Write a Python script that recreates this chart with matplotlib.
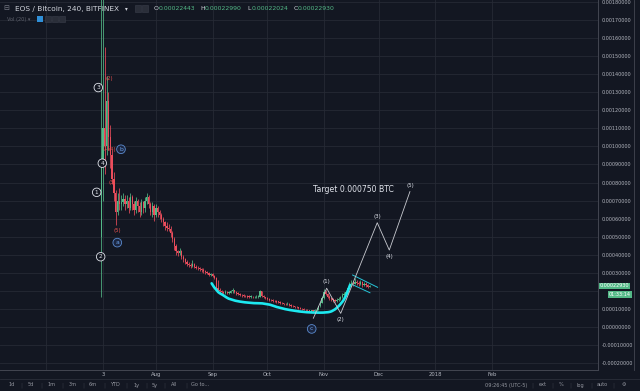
import matplotlib
matplotlib.use("Agg")
import matplotlib.pyplot as plt
import numpy as np
from matplotlib.path import Path
from matplotlib.patches import PathPatch, Rectangle
from matplotlib.lines import Line2D

# ---------------- data (prices in micro-BTC, day 0 = 2017-07-01) ----------------
first_open = 500
close = [900, 1100, 1000, 1250, 1050, 950, 820, 740, 640, 700,
         680, 690, 710, 680, 700, 660, 720, 680, 650, 700,
         670, 640, 690, 660, 700, 720, 680, 640, 670, 620,
         660, 640, 620, 600, 580, 560, 550, 545, 520, 490,
         450, 420, 410, 420, 390, 375, 360, 350, 345, 340,
         350, 335, 330, 325, 320, 318, 310, 305, 300, 290,
         292, 285, 275, 215, 205, 200, 195, 190, 195, 190,
         192, 198, 205, 195, 188, 185, 180, 178, 175, 172,
         170, 168, 170, 165, 166, 168, 170, 200, 175, 165,
         160, 157, 152, 150, 148, 145, 142, 140, 136, 132,
         130, 128, 130, 125, 118, 115, 112, 110, 107, 103,
         100, 98, 95, 93, 90, 92, 90, 95, 98, 115,
         135, 160, 195, 185, 170, 160, 155, 150, 145, 150,
         155, 165, 180, 185, 195, 215, 235, 245, 240, 250,
         245, 240, 250, 235, 240, 232, 225, 229.3]
high = [2000, 2000, 1550, 1390, 1300, 1120, 980, 860, 760, 740,
        770, 730, 740, 730, 730, 720, 740, 730, 700, 720,
        710, 690, 710, 700, 720, 740, 730, 690, 690, 680,
        680, 670, 650, 630, 610, 590, 580, 570, 560, 530,
        500, 460, 430, 440, 425, 400, 385, 370, 360, 355,
        372, 355, 345, 340, 335, 330, 325, 315, 312, 305,
        300, 300, 290, 278, 261, 215, 208, 200, 205, 200,
        202, 206, 215, 208, 200, 195, 190, 186, 183, 180,
        178, 176, 178, 175, 173, 176, 180, 206, 200, 180,
        170, 165, 162, 158, 155, 152, 150, 147, 144, 140,
        137, 135, 140, 135, 128, 122, 120, 117, 114, 111,
        108, 105, 103, 100, 98, 98, 97, 100, 104, 120,
        142, 168, 210, 205, 190, 178, 168, 163, 158, 160,
        165, 172, 188, 195, 205, 225, 250, 262, 258, 272,
        262, 255, 262, 256, 250, 248, 240, 235]
low = [167, 700, 850, 950, 980, 880, 790, 700, 565, 620,
       650, 650, 670, 650, 660, 630, 650, 650, 620, 630,
       640, 610, 620, 630, 640, 680, 660, 620, 610, 590,
       610, 610, 600, 580, 560, 540, 530, 530, 500, 470,
       430, 400, 395, 400, 380, 360, 350, 340, 335, 330,
       335, 325, 320, 315, 310, 305, 300, 295, 292, 282,
       282, 278, 265, 205, 195, 190, 185, 182, 185, 183,
       185, 188, 192, 188, 180, 178, 173, 170, 168, 166,
       163, 162, 162, 160, 160, 162, 163, 166, 168, 160,
       155, 150, 146, 144, 142, 140, 137, 134, 130, 127,
       124, 123, 124, 120, 114, 110, 108, 105, 103, 99,
       96, 94, 91, 89, 86, 87, 85, 87, 92, 95,
       112, 132, 155, 178, 162, 152, 146, 142, 138, 140,
       145, 150, 160, 172, 180, 190, 210, 228, 228, 238,
       232, 228, 232, 225, 228, 222, 215, 220]
days = list(range(1, len(close) + 1))

price_ticks = list(range(-200, 1801, 100))
hidden_tick = 200   # covered by the last-price tag in the reference
month_days = [-29, 2, 31, 62, 92, 123, 153, 184, 215]
month_labels = ["", "3", "Aug", "Sep", "Oct", "Nov", "Dec", "2018", "Feb"]

# projected Elliott wave
wave_days = [117.2, 124.5, 132.2, 152.2, 158.8, 170.1]
wave_prices = [50, 216, 77, 578, 427, 750]
wave_labels = ["", "(1)", "(2)", "(3)", "(4)", "(5)"]
wave_label_side = [0, 1, -1, 1, -1, 1]

# rounded-bottom drawing
bowl_days = [61.5, 64.3, 67.7, 71.6, 82.5, 91.6, 98.9, 109.9, 117.0, 124.5,
             128.1, 131.8, 134.5, 136.3, 137.3]
bowl_prices = [243, 197, 179, 151, 133, 133, 105, 86, 81, 81,
               90, 123, 160, 206, 234]

# flag lines
flag_upper = ([138.7, 152.4], [289, 221])
flag_lower = ([139.0, 148.2], [234, 191])

# early wave labels: (day, price, text, style)
early_labels = [(-0.57, 1325, "3", "white"), (-1.45, 746, "1", "white"),
                (0.74, 390, "2", "white"), (1.62, 907, "4", "white"),
                (5.29, 1376, "(2)", "red"), (3.64, 990, "(1)", "red"),
                (7.3, 984, "(4)", "red"), (7.1, 799, "(3)", "red"),
                (9.83, 534, "(5)", "red"),
                (11.86, 984, "b", "blue"), (9.83, 468, "a", "blue"),
                (116.3, -9, "c", "blue")]

target_day, target_price = 139.1, 759
last_price = 229.3

# ---------------- style ----------------
BG = "#131722"
GRID = "#262a35"
TXT = "#b2b5be"
UP = "#53b987"
DOWN = "#eb4d5c"
W, H = 640, 391

fig = plt.figure(figsize=(6.4, 3.91), dpi=100, facecolor=BG)

def fx(x):
    return x / W

def fy(y):
    return 1 - y / H

ax = fig.add_axes([0, fy(370), fx(598), 370 / H])
ax.set_facecolor(BG)
ax.set_xlim(-54.4, 273.1)
ax.set_ylim(-236, 1809)

for s in ["top", "left"]:
    ax.spines[s].set_visible(False)
for s in ["right", "bottom"]:
    ax.spines[s].set_color("#434651")
    ax.spines[s].set_linewidth(0.7)

ax.yaxis.tick_right()
ax.set_yticks(price_ticks)
ax.set_yticklabels(["" if v == hidden_tick else f"{v * 1e-6:.8f}" for v in price_ticks])
ax.tick_params(axis="y", length=0, pad=2.5, labelsize=3.5, labelcolor=TXT)
ax.set_xticks(month_days)
ax.set_xticklabels(month_labels)
ax.tick_params(axis="x", length=0, pad=1.5, labelsize=3.8, labelcolor=TXT)
ax.grid(True, color=GRID, lw=0.6)
ax.set_axisbelow(True)

# candles
opens = [first_open] + close[:-1]
cols = [UP if c >= o else DOWN for o, c in zip(opens, close)]
ax.vlines(days, low, high, colors=cols, lw=0.55, zorder=3)
bottoms = [min(o, c) for o, c in zip(opens, close)]
heights = [max(abs(c - o), 3) for o, c in zip(opens, close)]
ax.bar(days, heights, bottom=bottoms, width=0.7, color=cols, lw=0, zorder=4)

# rounded bottom (smooth curve through the drawn points)
pts = list(zip(bowl_days, bowl_prices))
verts = [pts[0]]
codes = [Path.MOVETO]
for i in range(1, len(pts) - 1):
    mid = ((pts[i][0] + pts[i + 1][0]) / 2, (pts[i][1] + pts[i + 1][1]) / 2)
    verts += [pts[i], mid]
    codes += [Path.CURVE3, Path.CURVE3]
verts.append(pts[-1])
codes.append(Path.LINETO)
ax.add_patch(PathPatch(Path(verts, codes), fc="none", ec="#1de9f0", lw=1.9,
                       capstyle="round", zorder=5))

# flag lines
ax.plot(*flag_upper, color="#26c6da", lw=0.7, zorder=6)
ax.plot(*flag_lower, color="#26c6da", lw=0.7, zorder=6)

# projected wave
ax.plot(wave_days, wave_prices, color="#c8cad0", lw=0.6, zorder=6)
for d, p, t, s in zip(wave_days, wave_prices, wave_labels, wave_label_side):
    if t:
        ax.annotate(t, (d, p), xytext=(0, 4.5 * s), textcoords="offset points",
                    ha="center", va="center", fontsize=4, color="#e0e3eb", zorder=7)

ax.text(target_day, target_price, "Target 0.000750 BTC", ha="center", va="center",
        fontsize=5.6, color="#e0e3eb", zorder=7)

# early wave labels
for d, p, t, s in early_labels:
    if s == "white":
        ax.text(d, p, t, ha="center", va="center", fontsize=4.2, color="#e0e3eb", zorder=8,
                bbox=dict(boxstyle="circle,pad=0.3", fc=BG, ec="#e0e3eb", lw=0.6))
    elif s == "blue":
        ax.text(d, p, t, ha="center", va="center", fontsize=4.4, color="#6aa0e8", zorder=8,
                bbox=dict(boxstyle="circle,pad=0.3", fc="#1b2640", ec="#5b8bd0", lw=0.6))
    else:
        ax.text(d, p, t, ha="center", va="center", fontsize=3.8, color="#ef5350", zorder=8)

# last price tags
ax.annotate("0.00022930", (1.0, last_price), xycoords=("axes fraction", "data"),
            xytext=(1.5, 0), textcoords="offset points", ha="left", va="center",
            fontsize=3.5, color="white", annotation_clip=False, zorder=10,
            bbox=dict(boxstyle="square,pad=0.15", fc=UP, ec="none"))
ax.annotate("01:33:14", (1.0, last_price), xycoords=("axes fraction", "data"),
            xytext=(8.0, -6.2), textcoords="offset points", ha="left", va="center",
            fontsize=3.5, color="white", annotation_clip=False, zorder=10,
            bbox=dict(boxstyle="square,pad=0.15", fc=UP, ec="none"))

# frame lines
fig.add_artist(Line2D([fx(634), fx(634)], [fy(0), fy(370)], color="#434651", lw=0.6))
fig.add_artist(Line2D([0, 1], [fy(379), fy(379)], color="#2a2e39", lw=0.6))

# header
fig.text(fx(3), fy(8.5), "⊟", fontsize=5, color="#787b86", va="center")
fig.text(fx(15), fy(8.5), "EOS / Bitcoin, 240, BITFINEX", fontsize=5.3, color="#d1d4dc", va="center")
fig.text(fx(125), fy(8.5), "▾", fontsize=4, color="#d1d4dc", va="center")
for x0 in (135, 142):
    fig.add_artist(Rectangle((fx(x0), fy(11.5)), fx(6), 6 / H, fc="#2a2e39", ec="#3a3e4a", lw=0.4))
ohlc = [("O", "0.00022443", 154), ("H", "0.00022990", 200.5),
        ("L", "0.00022024", 247), ("C", "0.00022930", 293.5)]
for k, v, x0 in ohlc:
    fig.text(fx(x0), fy(8.5), k, fontsize=4.4, color="#d1d4dc", va="center")
    fig.text(fx(x0 + 4.5), fy(8.5), v, fontsize=4.4, color=UP, va="center")
fig.text(fx(7), fy(19), "Vol (20) ▾", fontsize=3.6, color="#5d606b", va="center")
fig.add_artist(Rectangle((fx(37), fy(22)), fx(6), 6 / H, fc="#2f8fd8", ec="none"))
for x0 in (45, 52, 59):
    fig.add_artist(Rectangle((fx(x0), fy(22)), fx(6), 6 / H, fc="#2a2e39", ec="#3a3e4a", lw=0.4))

# bottom toolbar
tb = [("1d", 12), ("5d", 31), ("1m", 52), ("3m", 73), ("6m", 93), ("YTD", 115),
      ("1y", 137), ("5y", 155), ("All", 174), ("Go to...", 200)]
for i, (t, x0) in enumerate(tb):
    fig.text(fx(x0), fy(385), t, fontsize=3.6, color="#9598a1", ha="center", va="center")
    if i < len(tb) - 1:
        xs = (x0 + tb[i + 1][1]) / 2 if i < len(tb) - 2 else 186
        fig.text(fx(xs), fy(385), "|", fontsize=4, color="#363a45", ha="center", va="center")
tr = [("09:26:45 (UTC-5)", 506), ("ext", 543), ("%", 561), ("log", 580), ("auto", 602), ("⚙", 624)]
for i, (t, x0) in enumerate(tr):
    fig.text(fx(x0), fy(385), t, fontsize=3.6, color="#9598a1", ha="center", va="center")
    if i < len(tr) - 1:
        fig.text(fx((x0 + tr[i + 1][1]) / 2 + (8 if i == 0 else 0)), fy(385), "|",
                 fontsize=4, color="#363a45", ha="center", va="center")

fig.savefig("out.png", dpi=100, facecolor=BG)
